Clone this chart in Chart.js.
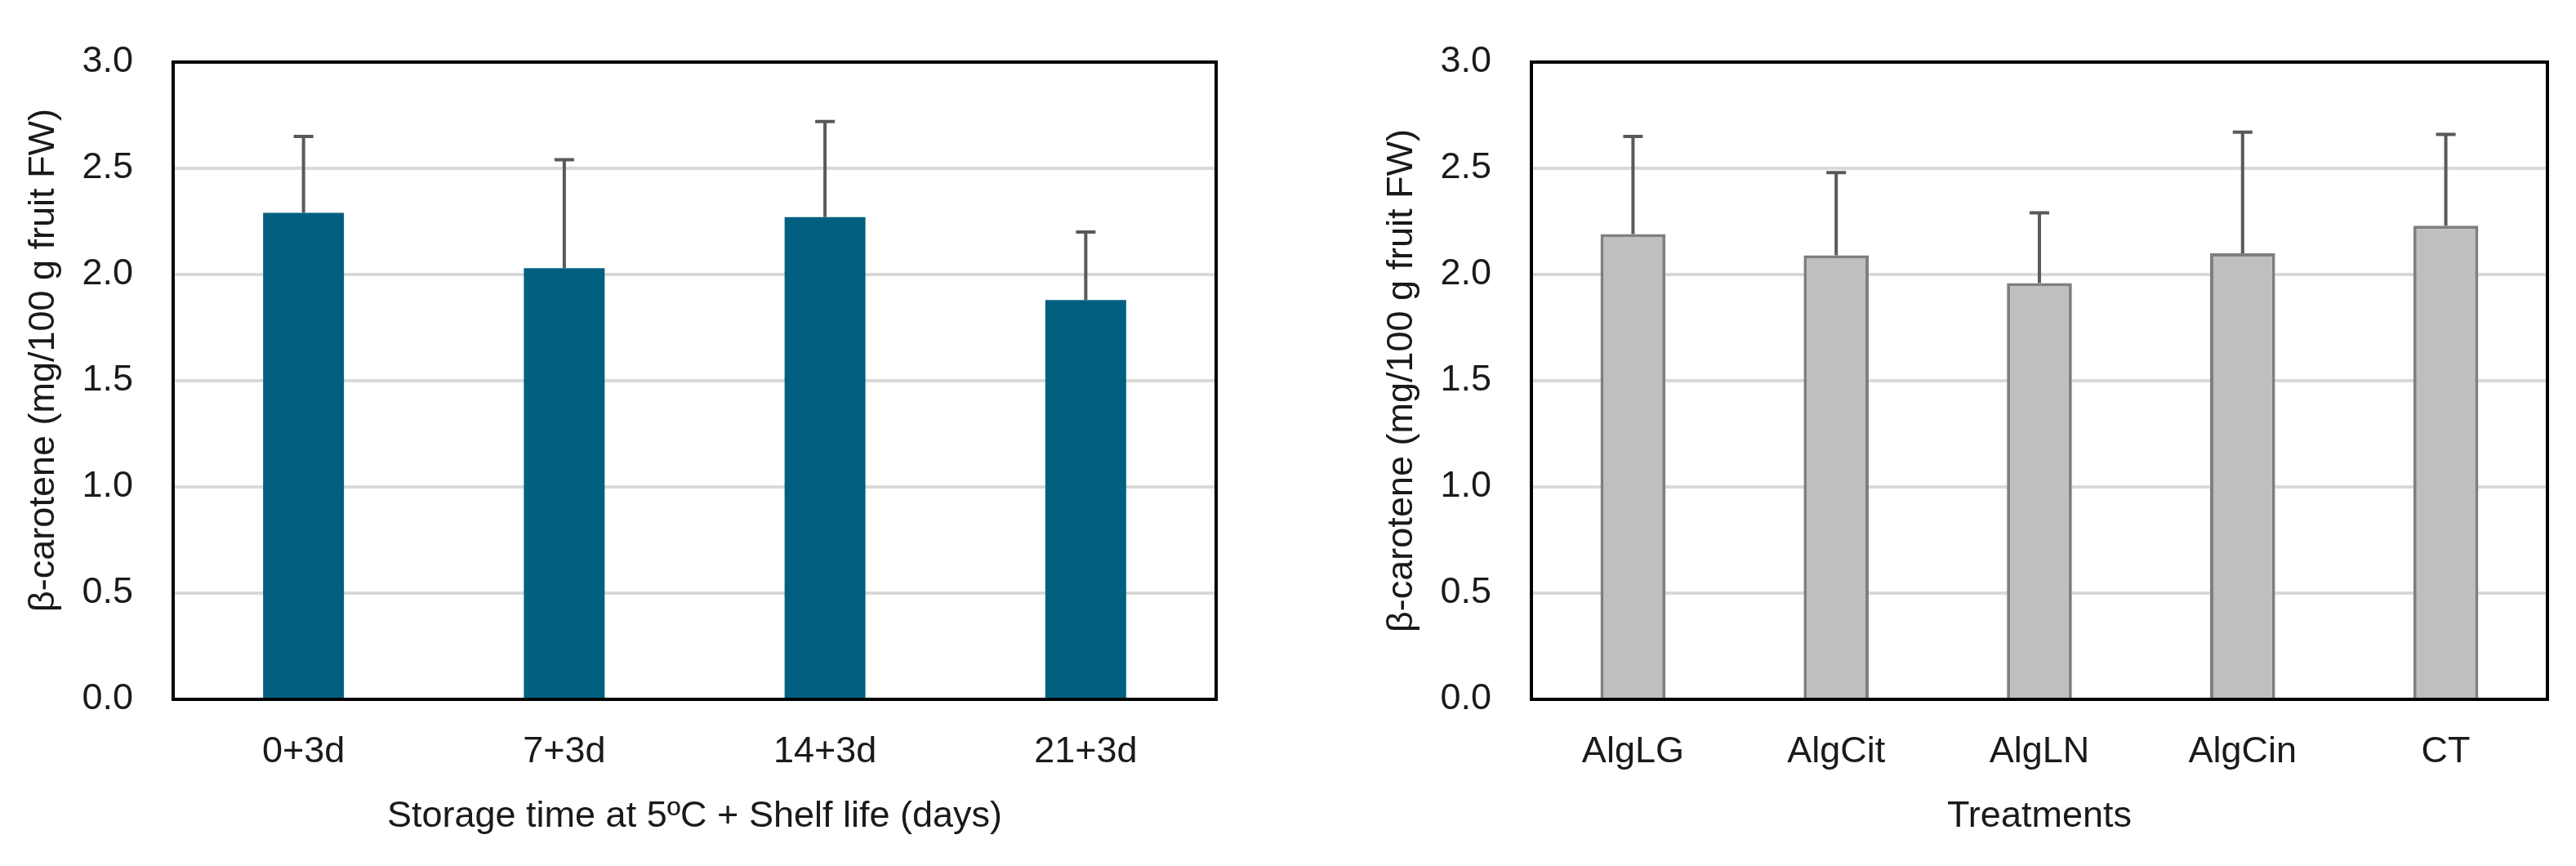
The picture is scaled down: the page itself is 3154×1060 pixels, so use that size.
<!DOCTYPE html>
<html>
<head>
<meta charset="utf-8">
<script src="https://cdn.jsdelivr.net/npm/chart.js@4.4.1/dist/chart.umd.min.js"></script>
<style>
  html, body { margin: 0; padding: 0; background: #fff; }
  #wrap { position: relative; width: 3154px; height: 1060px; }
  .box { position: absolute; top: 0; height: 1060px; }
  #leftBox { left: 0; width: 1560px; }
  #rightBox { left: 1560px; width: 1594px; }
</style>
</head>
<body>
<div id="wrap">
  <div class="box" id="leftBox"><canvas id="storageChart"></canvas></div>
  <div class="box" id="rightBox"><canvas id="treatChart"></canvas></div>
</div>
<script>
// storage time panel
const storageLabels = ["0+3d", "7+3d", "14+3d", "21+3d"];
const storageMeans = [2.29, 2.03, 2.27, 1.88];
const storageSD = [0.36, 0.51, 0.45, 0.32];

// treatments panel
const treatLabels = ["AlgLG", "AlgCit", "AlgLN", "AlgCin", "CT"];
const treatMeans = [2.19, 2.09, 1.96, 2.10, 2.23];
const treatSD = [0.46, 0.39, 0.33, 0.57, 0.43];

const yTicks = [0, 0.5, 1, 1.5, 2, 2.5, 3];

const yTitle = "\u03b2-carotene (mg/100 g fruit FW)";
const textColor = "#1a1a1a";
const font = { family: "'Liberation Sans', Arial, sans-serif", size: 45 };

// black box round the plot area
const frame = {
  id: "frame",
  afterDraw(chart) {
    const { ctx, chartArea: a } = chart;
    ctx.save();
    ctx.strokeStyle = "#000";
    ctx.lineWidth = 4;
    ctx.strokeRect(a.left, a.top, a.right - a.left, a.bottom - a.top);
    ctx.restore();
  }
};

// upward error bars only
const errBars = {
  id: "errbars",
  afterDatasetsDraw(chart) {
    const ds = chart.data.datasets[0];
    const meta = chart.getDatasetMeta(0);
    const y = chart.scales.y;
    const ctx = chart.ctx;
    ctx.save();
    ctx.strokeStyle = "#595959";
    ctx.lineWidth = 4;
    meta.data.forEach((bar, i) => {
      const v = ds.data[i];
      const yBase = y.getPixelForValue(v);
      const yTop = y.getPixelForValue(v + ds.sd[i]);
      ctx.beginPath();
      ctx.moveTo(bar.x, yBase);
      ctx.lineTo(bar.x, yTop);
      ctx.moveTo(bar.x - 12, yTop);
      ctx.lineTo(bar.x + 12, yTop);
      ctx.stroke();
    });
    ctx.restore();
  }
};

function makeChart(id, labels, means, sd, cfg) {
  return new Chart(document.getElementById(id), {
    type: "bar",
    data: {
      labels: labels,
      datasets: [{
        data: means,
        sd: sd,
        backgroundColor: cfg.fill,
        borderColor: cfg.edge,
        borderWidth: cfg.edgeWidth,
        barPercentage: cfg.barPct,
        categoryPercentage: 1
      }]
    },
    options: {
      responsive: true,
      maintainAspectRatio: false,
      devicePixelRatio: 1,
      animation: false,
      layout: { padding: { left: 0, right: cfg.padRight, top: 61, bottom: 0 } },
      plugins: { legend: { display: false }, tooltip: { enabled: false } },
      scales: {
        x: {
          grid: { display: false, drawTicks: false },
          border: { display: false },
          ticks: { padding: 38, color: textColor, font: font, maxRotation: 0, autoSkip: false },
          title: { display: true, text: cfg.xTitle, color: textColor, font: font, padding: { top: 0, bottom: 33 } },
          afterFit: s => { s.height = 204; }
        },
        y: {
          min: 0,
          max: 3,
          afterBuildTicks: s => { s.ticks = yTicks.map(v => ({ value: v })); },
          ticks: { padding: 49, color: textColor, font: font, callback: v => Number(v).toFixed(1) },
          grid: { color: "#d9d9d9", lineWidth: 4, drawTicks: false },
          border: { display: false },
          title: { display: true, text: cfg.yText, color: textColor, font: font, padding: { top: cfg.yTitlePad, bottom: 0 } },
          afterFit: s => { s.width = cfg.yWidth; }
        }
      }
    },
    plugins: [errBars, frame]
  });
}

makeChart("storageChart", storageLabels, storageMeans, storageSD, {
  fill: "#01607f", edge: "#01607f", edgeWidth: 0, barPct: 0.31,
  padRight: 71, yWidth: 212, yTitlePad: 27,
  yText: "\u00a0\u00a0\u00a0\u00a0" + yTitle,
  xTitle: "Storage time at 5\u00baC + Shelf life (days)"
});

makeChart("treatChart", treatLabels, treatMeans, treatSD, {
  fill: "#bfbfbf", edge: "#7f7f7f", edgeWidth: 4, barPct: 0.32,
  padRight: 35, yWidth: 315, yTitlePad: 130,
  yText: yTitle,
  xTitle: "Treatments"
});
</script>
</body>
</html>
